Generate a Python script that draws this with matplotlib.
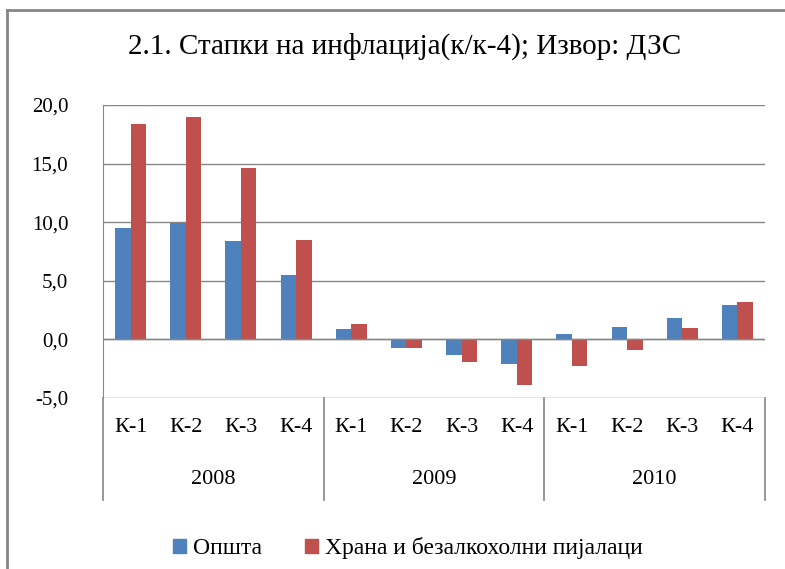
import numpy as np
import matplotlib
matplotlib.use("Agg")
import matplotlib.pyplot as plt
from matplotlib.lines import Line2D
from matplotlib.patches import Patch

# ── Data ──────────────────────────────────────────────────────────────────────
years    = ["2008", "2009", "2010"]
quarters = ["К-1", "К-2", "К-3", "К-4"]
opsta    = [9.5, 9.9, 8.4, 5.5, 0.9, -0.7, -1.35, -2.1, 0.45, 1.1, 1.8, 2.9]
hrana    = [18.4, 19.0, 14.6, 8.5, 1.3, -0.75, -1.95, -3.9, -2.3, -0.9, 1.0, 3.2]
yticks   = [-5, 0, 5, 10, 15, 20]

BLUE = "#4F81BD"
RED  = "#C0504D"
GREY = "#868686"

plt.rcParams["font.family"] = ["Liberation Serif", "DejaVu Serif"]

fig = plt.figure(figsize=(7.85, 5.69), dpi=100)
ax = fig.add_axes([103 / 785, 1 - 398 / 569, (765 - 103) / 785, (398 - 105) / 569])

n = len(opsta)
x = np.arange(n)
w = 0.28
ax.bar(x - w / 2, opsta, w, color=BLUE, zorder=3)
ax.bar(x + w / 2, hrana, w, color=RED, zorder=3)

ax.set_xlim(-0.5, n - 0.5)
ax.set_ylim(-5, 20)
ax.set_yticks(yticks)
ax.set_yticklabels([f"{v:.1f}".replace(".", ",") for v in yticks], fontsize=15)
ax.tick_params(axis="y", length=0, pad=25)
ax.set_xticks([])
ax.yaxis.grid(True, color=GREY, lw=1)
ax.axhline(0, color=GREY, lw=1, zorder=4)

for s in ["top", "right", "bottom"]:
    ax.spines[s].set_visible(False)
ax.spines["left"].set_color(GREY)

# ── Two-level category axis ───────────────────────────────────────────────────
h_ax = 398 - 105
for xs in [-0.5, 3.5, 7.5, 11.5]:
    ax.add_line(Line2D([xs, xs], [0, -(500 - 398) / h_ax], color=GREY, lw=1.2,
                       transform=ax.get_xaxis_transform(), clip_on=False))
for i in range(n):
    ax.text(i, -(428 - 398) / h_ax, quarters[i % 4], transform=ax.get_xaxis_transform(),
            ha="center", va="center", fontsize=16)
for j, yr in enumerate(years):
    ax.text(4 * j + 1.5, -(479 - 398) / h_ax, yr, transform=ax.get_xaxis_transform(),
            ha="center", va="center", fontsize=16)

# ── Title, legend, frame ──────────────────────────────────────────────────────
fig.text(405 / 785, 1 - 46 / 569, "2.1. Стапки на инфлација(к/к-4); Извор: ДЗС",
         ha="center", va="center", fontsize=21)

handles = [Patch(color=BLUE, label="Општа"),
           Patch(color=RED, label="Храна и безалкохолни пијалаци")]
fig.legend(handles=handles, loc="center", bbox_to_anchor=(408 / 785, 1 - 548 / 569),
           ncol=2, frameon=False, fontsize=17, handlelength=0.55, handleheight=0.55,
           handletextpad=0.3, columnspacing=1.8)

fig.add_artist(Line2D([7 / 785, 7 / 785], [0, 1 - 10 / 569], color=GREY, lw=2,
                      transform=fig.transFigure))
fig.add_artist(Line2D([7 / 785, 1], [1 - 10 / 569, 1 - 10 / 569], color=GREY, lw=2,
                      transform=fig.transFigure))

fig.savefig("out.png", dpi=100)
